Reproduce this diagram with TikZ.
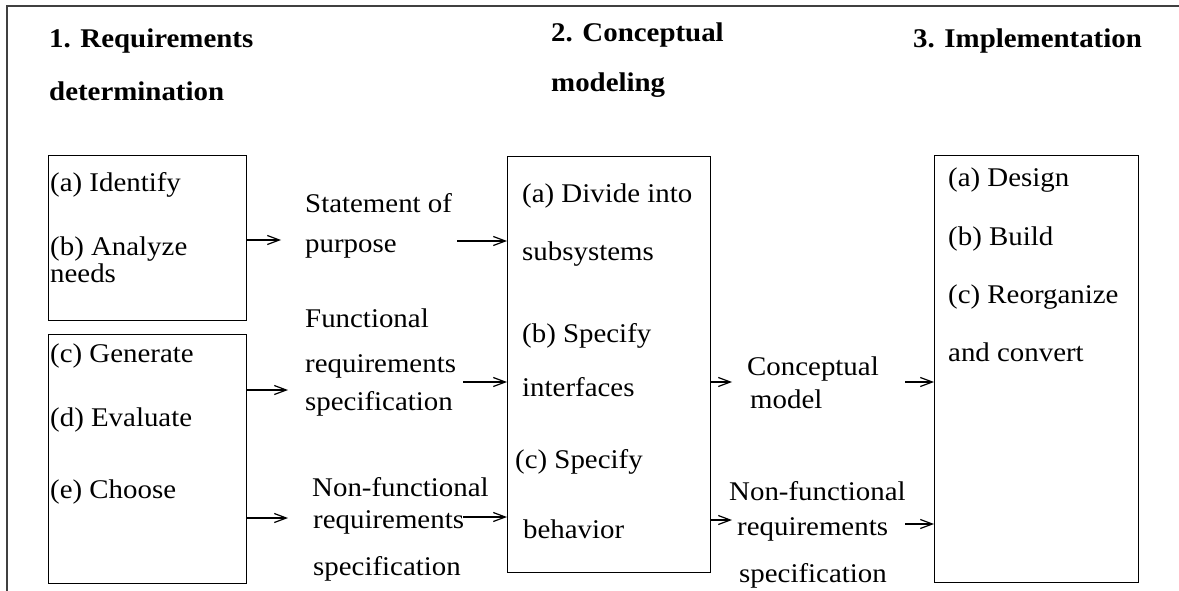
\documentclass[tikz,border=0pt]{standalone}
\usepackage{fontspec}
\setmainfont{Liberation Serif}[FakeStretch=1.07]
\usetikzlibrary{arrows.meta}
\newcommand{\diagfont}{\fontsize{27}{30}\selectfont}
\begin{document}
\begin{tikzpicture}[x=1pt,y=-1pt,
  box/.style={draw, line width=1.4pt, anchor=north west, inner sep=0pt},
  txt/.style={anchor=base west, inner sep=0pt, font=\diagfont},
  head/.style={anchor=base west, inner sep=0pt, font=\diagfont\bfseries},
  link/.style={line width=1.2pt, -{Straight Barb[length=12pt,width=9pt]}},
  frame/.style={line width=1.3pt, black!75}]
\useasboundingbox (0,0) rectangle (1179,591);

% outer frame (top and left edges only)
\draw[frame] (1179,6) -- (7,6) -- (7,591);

% column headings
\node[head] (h1a) at (49,48)  {1. Requirements};
\node[head] (h1b) at (49,101) {determination};
\node[head] (h2a) at (551,42) {2. Conceptual};
\node[head] (h2b) at (551,92) {modeling};
\node[head] (h3)  at (913,48) {3. Implementation};

% boxes
\node[box, minimum width=198pt, minimum height=165pt] (A1) at (48,155) {};
\node[box, minimum width=198pt, minimum height=249pt] (A2) at (48,334) {};
\node[box, minimum width=203pt, minimum height=416pt] (B)  at (507,156) {};
\node[box, minimum width=204pt, minimum height=427pt] (C)  at (934,155) {};

% box contents: requirements determination
\node[txt] (a1) at (50,192) {(a) Identify};
\node[txt] (a2) at (50,255) {(b) Analyze};
\node[txt] (a3) at (50,282) {needs};
\node[txt] (a4) at (50,362) {(c) Generate};
\node[txt] (a5) at (50,426) {(d) Evaluate};
\node[txt] (a6) at (50,498) {(e) Choose};

% box contents: conceptual modeling
\node[txt] (b1) at (522,203) {(a) Divide into};
\node[txt] (b2) at (522,260) {subsystems};
\node[txt] (b3) at (522,342) {(b) Specify};
\node[txt] (b4) at (522,396) {interfaces};
\node[txt] (b5) at (515,468) {(c) Specify};
\node[txt] (b6) at (523,538) {behavior};

% box contents: implementation
\node[txt] (c1) at (948,186) {(a) Design};
\node[txt] (c2) at (948,245) {(b) Build};
\node[txt] (c3) at (948,303) {(c) Reorganize};
\node[txt] (c4) at (948,361) {and convert};

% intermediate products between stages
\node[txt] (s1) at (305,213) {Statement of};
\node[txt] (s2) at (305,252) {purpose};
\node[txt] (f1) at (305,327) {Functional};
\node[txt] (f2) at (305,372) {requirements};
\node[txt] (f3) at (305,410) {specification};
\node[txt] (n1) at (312,496) {Non-functional};
\node[txt] (n2) at (313,528) {requirements};
\node[txt] (n3) at (313,575) {specification};
\node[txt] (m1) at (747,375) {Conceptual};
\node[txt] (m2) at (750,408) {model};
\node[txt] (r1) at (729,500) {Non-functional};
\node[txt] (r2) at (737,535) {requirements};
\node[txt] (r3) at (739,582) {specification};

% arrow end points
\coordinate (pA1) at (281,240);
\coordinate (pA2) at (288,390);
\coordinate (pA3) at (288,518);
\coordinate (pB1) at (457,241);
\coordinate (pB2) at (463,382);
\coordinate (pB3) at (463,517);
\coordinate (pO1) at (732,382);
\coordinate (pO2) at (732,520);
\coordinate (pC1) at (905,382);
\coordinate (pC2) at (905,524);

% connectors
\draw[link] (A1.east |- pA1) -- (pA1);
\draw[link] (A2.east |- pA2) -- (pA2);
\draw[link] (A2.east |- pA3) -- (pA3);
\draw[link] (pB1) -- (B.west |- pB1);
\draw[link] (pB2) -- (B.west |- pB2);
\draw[link] (pB3) -- (B.west |- pB3);
\draw[link] (B.east |- pO1) -- (pO1);
\draw[link] (B.east |- pO2) -- (pO2);
\draw[link] (pC1) -- (C.west |- pC1);
\draw[link] (pC2) -- (C.west |- pC2);
\end{tikzpicture}
\end{document}
